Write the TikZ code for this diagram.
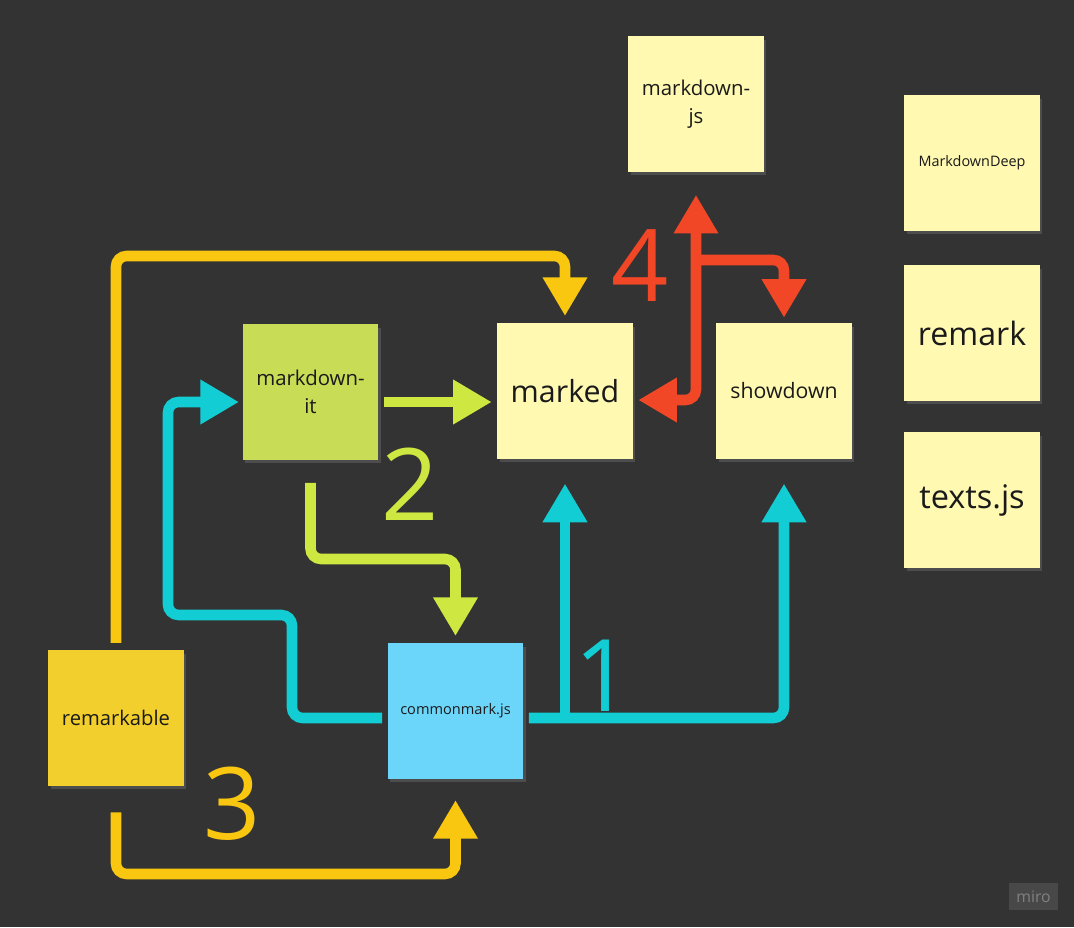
\documentclass[tikz,border=0pt]{standalone}
\usepackage{fontspec}
\setmainfont{Open Sans}
\usetikzlibrary{arrows.meta,shadows}
\definecolor{board}{HTML}{333333}
\definecolor{ink}{HTML}{1A1A1A}
\definecolor{paleyellow}{HTML}{FFF9B1}
\definecolor{notegreen}{HTML}{C9DC55}
\definecolor{noteblue}{HTML}{6CD6FA}
\definecolor{noteyellow}{HTML}{F2CF2C}
\definecolor{lnyellow}{HTML}{FAC710}
\definecolor{lnlime}{HTML}{CEE741}
\definecolor{lncyan}{HTML}{12CDD4}
\definecolor{lnred}{HTML}{F24726}
\definecolor{logo}{HTML}{484848}

\begin{document}
\begin{tikzpicture}[x=0.02cm,y=-0.02cm,
    note/.style={rectangle,minimum width=77pt,minimum height=77pt,inner sep=0pt,
      align=center,text=ink,drop shadow={opacity=.35,shadow xshift=1.5pt,shadow yshift=-2pt}},
    flow/.style={line width=6pt,rounded corners=6pt,-{Triangle[length=22pt,width=24pt]}},
    num/.style={font=\fontsize{57}{57}\selectfont}]
  \fill[board] (0,0) rectangle (1074,927);
  % sticky notes
  \node[note,fill=paleyellow,font=\fontsize{11.6}{16}\selectfont] (mdjs) at (696,104) {markdown-\\js};
  \node[note,fill=paleyellow,font=\fontsize{8.2}{10}\selectfont] (mdd) at (972,163) {MarkdownDeep};
  \node[note,fill=paleyellow,font=\fontsize{18.3}{22}\selectfont] (rmkd) at (972,333) {remark};
  \node[note,fill=paleyellow,font=\fontsize{18.5}{22}\selectfont] (txts) at (972,500) {texts.js};
  \node[note,fill=paleyellow,font=\fontsize{17.3}{21}\selectfont] (mkd) at (565,391) {marked};
  \node[note,fill=paleyellow,font=\fontsize{12.1}{15}\selectfont] (shd) at (784,391) {showdown};
  \node[note,fill=notegreen,font=\fontsize{11.6}{16}\selectfont] (mdit) at (310.5,392) {markdown-\\it};
  \node[note,fill=noteblue,font=\fontsize{8.3}{10}\selectfont] (cmjs) at (455.5,711) {commonmark.js};
  \node[note,fill=noteyellow,font=\fontsize{11.5}{14}\selectfont] (rmk) at (116,718) {remarkable};
  % 1
  \coordinate (cfork) at (mkd.south |- 0,718);
  \draw[flow,lncyan,shorten <=3pt,shorten >=2pt] (cmjs.west |- 0,718) -| (292,615) -| (168,402) -- (mdit.west |- 0,402);
  \draw[flow,lncyan,shorten <=3pt,shorten >=14pt] (cmjs.east |- 0,718) -| (shd.south);
  \draw[flow,lncyan,shorten >=14pt] (cfork) -- (mkd.south);
  \node[num,text=lncyan] (n1) at (603,676) {1};
  % 2
  \draw[flow,lnlime,shorten <=3pt,shorten >=3pt] (mdit.east |- 0,402) -- (mkd.west |- 0,402);
  \draw[flow,lnlime,shorten <=13pt,shorten >=4pt] (mdit.south) -- (310.5,559) -| (cmjs.north);
  \node[num,text=lnlime] (n2) at (410,484) {2};
  % 3
  \draw[flow,lnyellow,shorten <=4pt,shorten >=4pt] (rmk.north) -- (116,256) -| (mkd.north);
  \draw[flow,lnyellow,shorten <=15pt,shorten >=12pt] (rmk.south) -- (116,874) -| (cmjs.south);
  \node[num,text=lnyellow] (n3) at (232,804) {3};
  % 4
  \draw[flow,lnred,{Triangle[length=22pt,width=24pt]}-{Triangle[length=22pt,width=24pt]},
    shorten <=3pt,shorten >=13pt] (mkd.east |- 0,400) -| (mdjs.south);
  \coordinate (rfork) at (696,260);
  \draw[flow,lnred,shorten >=3pt] (rfork) -| (shd.north);
  \node[num,text=lnred] (n4) at (640,266) {4};
  % miro
  \node[fill=logo,text=gray,minimum width=28pt,minimum height=15pt,inner sep=0pt,
    font=\fontsize{9}{9}\selectfont] (miro) at (1033.5,896.5) {miro};
\end{tikzpicture}
\end{document}
